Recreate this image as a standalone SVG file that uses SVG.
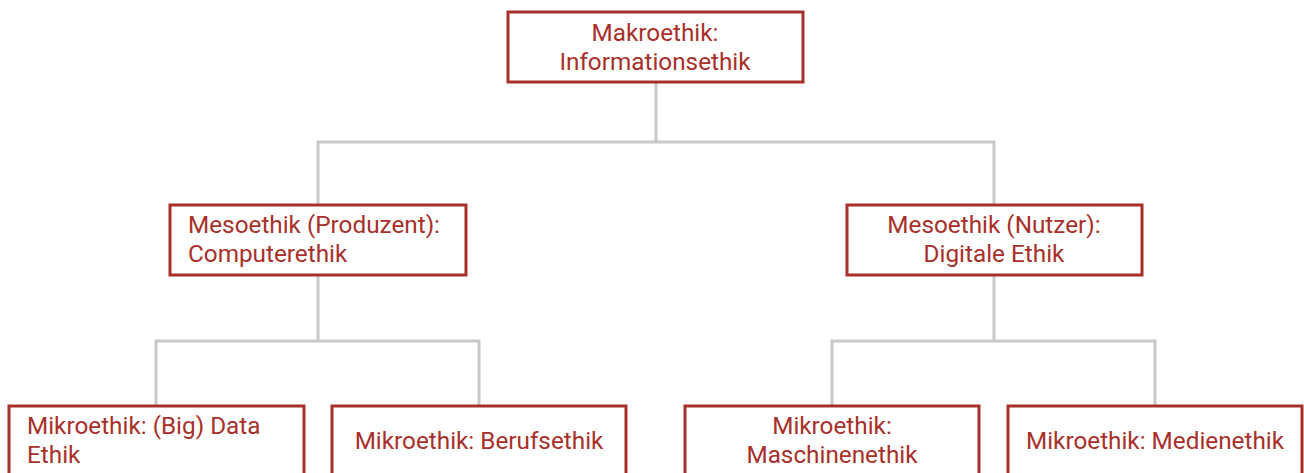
<svg xmlns="http://www.w3.org/2000/svg" width="1304" height="473" viewBox="0 0 1304 473">
  <style>
    .box { fill: #ffffff; stroke: #a8302b; stroke-width: 3; }
    .lbl { font-family: Roboto, "Liberation Sans", sans-serif; font-size: 24.3px; fill: #a8302b; }
    .mid { text-anchor: middle; }
    .conn { fill: none; stroke: #c8c8c8; stroke-width: 3; }
  </style>
  <rect width="1304" height="473" fill="#ffffff"/>

  <!-- tree connectors -->
  <g id="connectors">
    <path class="conn" d="M656 82 V142 M318 205 V142 H994 V205"/>
    <path class="conn" d="M318 275 V341 M156 406 V341 H479 V406"/>
    <path class="conn" d="M994 275 V341 M832 406 V341 H1155 V406"/>
  </g>

  <g id="makro">
    <rect class="box" x="508" y="12" width="295" height="70"/>
    <text class="lbl mid" x="655" y="41">Makroethik:</text>
    <text class="lbl mid" x="655" y="70">Informationsethik</text>
  </g>

  <g id="meso-produzent">
    <rect class="box" x="170" y="205" width="296" height="70"/>
    <text class="lbl" x="188" y="233">Mesoethik (Produzent):</text>
    <text class="lbl" x="188" y="262">Computerethik</text>
  </g>

  <g id="meso-nutzer">
    <rect class="box" x="847" y="205" width="295" height="70"/>
    <text class="lbl mid" x="994" y="233">Mesoethik (Nutzer):</text>
    <text class="lbl mid" x="994" y="262">Digitale Ethik</text>
  </g>

  <g id="mikro-data">
    <rect class="box" x="9" y="406" width="295" height="71"/>
    <text class="lbl" x="27" y="434">Mikroethik: (Big) Data</text>
    <text class="lbl" x="27" y="463">Ethik</text>
  </g>

  <g id="mikro-beruf">
    <rect class="box" x="332" y="406" width="294" height="71"/>
    <text class="lbl mid" x="479" y="449">Mikroethik: Berufsethik</text>
  </g>

  <g id="mikro-maschine">
    <rect class="box" x="685" y="406" width="294" height="71"/>
    <text class="lbl mid" x="832" y="434">Mikroethik:</text>
    <text class="lbl mid" x="832" y="463">Maschinenethik</text>
  </g>

  <g id="mikro-medien">
    <rect class="box" x="1008" y="406" width="294" height="71"/>
    <text class="lbl mid" x="1155" y="449">Mikroethik: Medienethik</text>
  </g>
</svg>
